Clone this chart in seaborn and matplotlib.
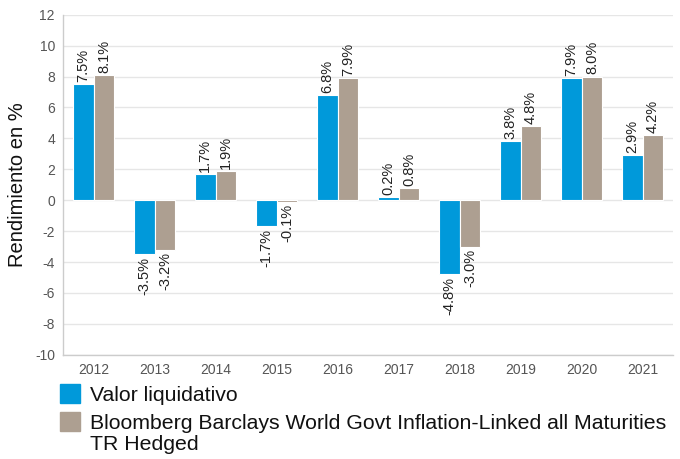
#!/usr/bin/env python
""" Rendimiento anual: fondo vs indice """

import pandas as pd
import seaborn as sns
import matplotlib
import matplotlib.pyplot as plt

matplotlib.use("Agg")

years = ["2012", "2013", "2014", "2015", "2016", "2017", "2018", "2019", "2020", "2021"]
fund = [7.5, -3.5, 1.7, -1.7, 6.8, 0.2, -4.8, 3.8, 7.9, 2.9]
bench = [8.1, -3.2, 1.9, -0.1, 7.9, 0.8, -3.0, 4.8, 8.0, 4.2]
series_names = ["Valor liquidativo",
                "Bloomberg Barclays World Govt Inflation-Linked all Maturities"]
bench_name_cont = "TR Hedged"
colors = ["#0099da", "#ad9f91"]
y_ticks = list(range(-10, 13, 2))


def main():
    """ Main function """
    sns.set_style("white")
    plt.rcParams["font.family"] = ["Liberation Sans", "DejaVu Sans"]
    plt.rcParams["axes.unicode_minus"] = False

    df = pd.DataFrame({
        "year": years * 2,
        "value": fund + bench,
        "serie": [series_names[0]] * len(years) + [series_names[1]] * len(years),
    })

    f = plt.figure(figsize=(6.8, 4.59), dpi=100)
    ax = f.add_axes([0.093, 0.227, 0.897, 0.741])

    sns.barplot(data=df, x="year", y="value", hue="serie", palette=colors,
                saturation=1, width=0.68, edgecolor="white", linewidth=0.8,
                ax=ax, legend=False, zorder=3)

    # value labels
    for cont in ax.containers:
        for bar in cont:
            h = bar.get_height()
            xc = bar.get_x() + bar.get_width() / 2
            txt = "{:.1f}%".format(h)
            if h >= 0:
                ax.text(xc, h + 0.15, txt, rotation=90, ha="center", va="bottom",
                        fontsize=10.5, color="#222222")
            else:
                ax.text(xc, h - 0.15, txt, rotation=90, ha="center", va="top",
                        fontsize=10.5, color="#222222")

    ax.set_ylim(-10, 12)
    ax.set_xlim(-0.5, 9.5)
    ax.set_yticks(y_ticks)
    ax.yaxis.grid(True, color="#e6e6e6", linewidth=1, zorder=0)
    ax.set_axisbelow(True)
    ax.set_xlabel("")
    ax.set_ylabel("Rendimiento en %", fontsize=14.5, color="#111111", labelpad=6)
    ax.tick_params(axis="both", labelsize=10, colors="#555555", length=0, pad=6)

    for side in ["top", "right"]:
        ax.spines[side].set_visible(False)
    for side in ["left", "bottom"]:
        ax.spines[side].set_color("#cccccc")
        ax.spines[side].set_linewidth(1)

    # legend below the axes
    handles = [matplotlib.patches.Patch(color=c) for c in colors]
    leg = f.legend(handles, series_names, loc="upper left",
                   bbox_to_anchor=(0.088, 0.163), frameon=False, fontsize=15.3,
                   handlelength=0.95, handleheight=1.0, handletextpad=0.45,
                   labelspacing=0.35, borderaxespad=0, borderpad=0)

    # second line of the long benchmark name (baseline ~21 px below)
    f.canvas.draw()
    bb = leg.get_texts()[1].get_window_extent()
    x0, y0 = f.transFigure.inverted().transform((bb.x0, bb.y0 - 16.5))
    f.text(x0, y0, bench_name_cont, fontsize=15.3, color="#111111",
           ha="left", va="baseline")
    for t in leg.get_texts():
        t.set_color("#111111")

    f.savefig("out.png", dpi=100)
    plt.close(f)


if __name__ == '__main__':
    main()
